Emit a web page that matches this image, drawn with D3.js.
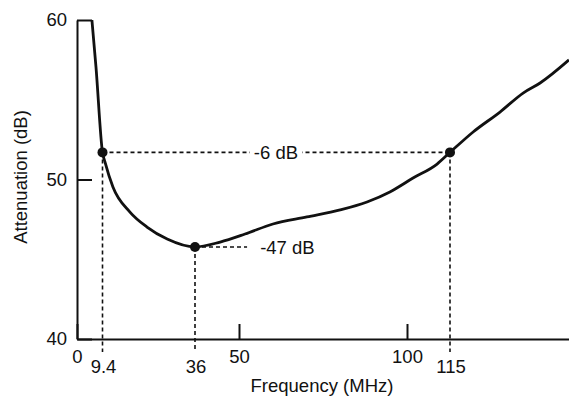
<!DOCTYPE html>
<html>
<head>
<meta charset="utf-8">
<script src="https://cdnjs.cloudflare.com/ajax/libs/d3/7.8.5/d3.min.js"></script>
<style>
    body { margin: 0; background: #fff; }
    svg { display: block; font-family: "Liberation Sans", Arial, sans-serif; }
    .axis path, .axis line { stroke: #111; stroke-width: 2; }
    .axis text { font-size: 18.5px; fill: #111; font-family: "Liberation Sans", Arial, sans-serif; }
    .label { font-size: 18.5px; fill: #111; }
    .guide { stroke: #111; stroke-width: 1.6; stroke-dasharray: 4,3; fill: none; }
</style>
</head>
<body>
<svg></svg>
<script>
// curve
var freqMHz = [5.5, 7.0, 9.4, 10.1, 12.4, 17.3, 22.2, 28, 36, 44, 51.8, 60.1, 70.2, 80.1, 88.1, 94.9, 102.1, 110.5, 115, 121.8, 129.7, 136.5, 141.5, 150]
var attenDb = [60, 57.05, 51.7, 51.1, 49.53, 47.96, 47.02, 46.27, 45.77, 46.08, 46.58, 47.21, 47.65, 48.09, 48.59, 49.22, 50.09, 50.97, 51.7, 52.98, 54.23, 55.42, 56.05, 57.5]

// marked points
var markFreq = [9.4, 36, 115]
var markDb = [51.7, 45.77, 51.7]

// tick labels
var xTicksTop = [0, 50, 100]
var xTicksMarked = ["9.4", "36", "115"]
var yTicks = [40, 50, 60]

var screen = { width: 569, height: 398 }

var svg = d3.select("svg")
    .attr("width", screen.width)
    .attr("height", screen.height)

// the original frequency axis is hand drawn, not quite even
var xScale = d3.scaleLinear()
    .domain([0, 9.4, 36, 50, 100, 115, 150])
    .range([77, 102.5, 195, 239, 407, 450, 569])

var yScale = d3.scaleLinear()
    .domain([40, 60])
    .range([339, 20])

var makeTranslateString = function (x, y) {
    return "translate(" + x + "," + y + ")";
}

var drawAxes = function () {
    var xAxis = d3.axisBottom(xScale)
        .tickValues(xTicksTop)
        .tickFormat(d3.format("d"))
        .tickSizeInner(-15)
        .tickSizeOuter(0)
        .tickPadding(11)

    var yAxis = d3.axisLeft(yScale)
        .tickValues(yTicks)
        .tickSizeInner(-15)
        .tickSizeOuter(0)
        .tickPadding(10)

    svg.append("g")
        .classed("axis", true)
        .attr("transform", makeTranslateString(0, yScale(40)))
        .call(xAxis)

    svg.append("g")
        .classed("axis", true)
        .attr("transform", makeTranslateString(xScale(0), 0))
        .call(yAxis)
}

var drawGuides = function () {
    var guides = svg.append("g")

    // verticals down from each point to the labels
    guides.selectAll("line.vert")
        .data(markFreq)
        .enter()
        .append("line")
        .classed("guide", true)
        .attr("x1", function (f) { return xScale(f) })
        .attr("x2", function (f) { return xScale(f) })
        .attr("y1", function (f, i) { return yScale(markDb[i]) })
        .attr("y2", yScale(40) + 13)

    // -6 dB line between the two corner points
    guides.append("line")
        .classed("guide", true)
        .attr("x1", xScale(markFreq[0]))
        .attr("x2", xScale(markFreq[2]))
        .attr("y1", yScale(markDb[0]))
        .attr("y2", yScale(markDb[2]))

    // -47 dB stub from the minimum
    guides.append("line")
        .classed("guide", true)
        .attr("x1", xScale(markFreq[1]))
        .attr("x2", xScale(52.4))
        .attr("y1", yScale(markDb[1]))
        .attr("y2", yScale(markDb[1]))

    var sixDb = guides.append("text")
        .classed("label", true)
        .attr("x", xScale(61))
        .attr("y", yScale(markDb[0]))
        .attr("dy", "0.36em")
        .attr("text-anchor", "middle")
        .text("-6 dB")

    var box = sixDb.node().getBBox()
    guides.insert("rect", "text")
        .attr("x", box.x - 4)
        .attr("y", box.y)
        .attr("width", box.width + 8)
        .attr("height", box.height)
        .attr("fill", "#fff")

    guides.append("text")
        .classed("label", true)
        .attr("x", xScale(56.3))
        .attr("y", yScale(markDb[1]))
        .attr("dy", "0.4em")
        .text("-47 dB")
}

var drawCurve = function () {
    var points = freqMHz.map(function (f, i) {
        return { f: f, db: attenDb[i] }
    })

    var lineGenerator = d3.line()
        .x(function (p) { return xScale(p.f) })
        .y(function (p) { return yScale(p.db) })
        .curve(d3.curveMonotoneX)

    svg.append("path")
        .datum(points)
        .attr("d", lineGenerator)
        .attr("fill", "none")
        .attr("stroke", "#111")
        .attr("stroke-width", 2.8)
        .attr("stroke-linejoin", "round")

    svg.selectAll("circle")
        .data(markFreq)
        .enter()
        .append("circle")
        .attr("cx", function (f) { return xScale(f) })
        .attr("cy", function (f, i) { return yScale(markDb[i]) })
        .attr("r", 5)
        .attr("fill", "#111")
}

var drawLabels = function () {
    svg.selectAll("text.marked")
        .data(markFreq)
        .enter()
        .append("text")
        .classed("label", true)
        .attr("x", function (f) { return xScale(f) + 1 })
        .attr("y", 373)
        .attr("text-anchor", "middle")
        .text(function (f, i) { return xTicksMarked[i] })

    svg.append("text")
        .classed("label", true)
        .attr("x", 322)
        .attr("y", 392)
        .attr("text-anchor", "middle")
        .text("Frequency (MHz)")

    svg.append("text")
        .classed("label", true)
        .attr("transform", makeTranslateString(27, 177) + " rotate(-90)")
        .attr("text-anchor", "middle")
        .text("Attenuation (dB)")
}

drawGuides()
drawAxes()
drawCurve()
drawLabels()
</script>
</body>
</html>
